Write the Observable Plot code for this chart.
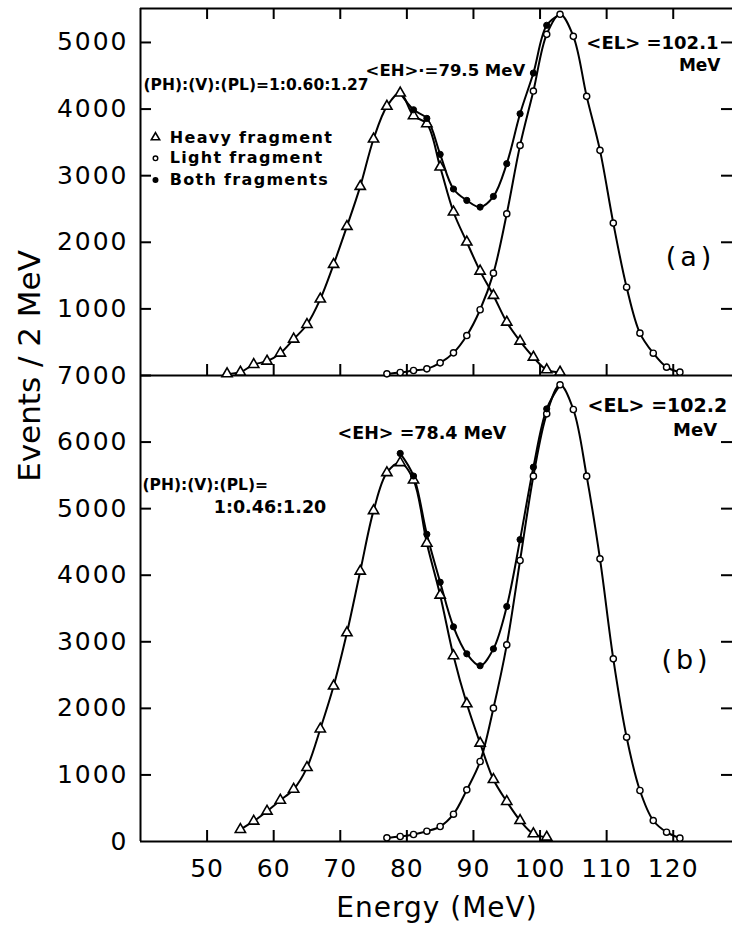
<!DOCTYPE html>
<html>
<head>
<meta charset="utf-8">
<script src="https://cdn.jsdelivr.net/npm/d3@7"></script>
<script src="https://cdn.jsdelivr.net/npm/@observablehq/plot@0.6"></script>
<style>
  html, body { margin: 0; padding: 0; background: #fff; overflow: hidden; }
  #chart { position: relative; width: 732px; height: 927px; }
  #chart svg { position: absolute; left: 0; }
  #chart g[aria-label="y-axis tick label"] text { letter-spacing: 2px; }
  #chart g[aria-label="x-axis tick label"] text { letter-spacing: 1px; }
</style>
</head>
<body>
<div id="chart"></div>
<script>
// ---------- data ----------
// Panel (a)
const heavyEnergyA = [53,55,57,59,61,63,65,67,69,71,73,75,77,79,81,83,85,87,89,91,93,95,97,99,101,103];
const heavyA       = [25,50,165,215,335,546,766,1147,1667,2238,2839,3550,4041,4240,3900,3780,3130,2455,2003,1567,1202,801,515,275,85,50];
const lightEnergyA = [77,79,81,83,85,87,89,91,93,95,97,99,101,103,105,107,109,111,113,115,117,119,121];
const lightA       = [25,45,75,100,190,340,600,987,1537,2428,3455,4271,5122,5423,5092,4191,3380,2288,1326,636,335,125,50];
const bothEnergyA  = [81,83,85,87,89,91,93,95,97,99,101];
const bothA        = [3990,3860,3320,2800,2629,2528,2689,3180,3930,4541,5258];

// Panel (b)
const heavyEnergyB = [55,57,59,61,63,65,67,69,71,73,75,77,79,81,83,85,87,89,91,93,95,97,99,101];
const heavyB       = [180,305,455,620,785,1110,1690,2335,3135,4060,4970,5540,5690,5430,4480,3700,2790,2068,1477,931,601,315,115,65];
const lightEnergyB = [77,79,81,83,85,87,89,91,93,95,97,99,101,103,105,107,109,111,113,115,117,119,121];
const lightB       = [55,75,105,155,225,410,776,1202,2003,2954,4221,5488,6424,6860,6489,5488,4246,2744,1567,766,315,140,50];
const bothEnergyB  = [79,81,83,85,87,89,91,93,95,97,99,101];
const bothB        = [5830,5490,4615,3895,3225,2819,2640,2894,3530,4535,5623,6499];

// axes
const xTicks  = [50,60,70,80,90,100,110,120];
const yTicksA = [1000,2000,3000,4000,5000];
const yTicksB = [0,1000,2000,3000,4000,5000,6000,7000];
const xDomain = [40, 128.9];
const yDomainA = [0, 5510];
const yDomainB = [0, 7000];

// texts
const legendLabels  = ["Heavy fragment", "Light fragment", "Both fragments"];
const legendSymbols = ["triangle", "circle", "circle"];
const legendFills   = ["white", "white", "black"];
const ratioA = "(PH):(V):(PL)=1:0.60:1.27";
const ehA = "<EH>·=79.5 MeV";
const elA = "<EL> =102.1";
const ratioB1 = "(PH):(V):(PL)=";
const ratioB2 = "1:0.46:1.20";
const ehB = "<EH> =78.4 MeV";
const elB = "<EL> =102.2";
const xLabel = "Energy (MeV)";
const yLabel = "Events / 2 MeV";

// ---------- helpers ----------
const FONT = "'DejaVu Sans', sans-serif";
const tickLen = 11;        // px
const axisStroke = 2;
const plotW = 732 - 140;   // px width of plotting area
const rows = (E, V) => E.map((e, i) => ({e, v: V[i]}));
const at = (E, V, e) => V[E.indexOf(e)];

function seriesMarks(heavy, light, both, bothLine) {
  return [
    Plot.line(heavy, {x: "e", y: "v", curve: "catmull-rom", strokeWidth: 2, stroke: "black"}),
    Plot.line(light, {x: "e", y: "v", curve: "catmull-rom", strokeWidth: 2, stroke: "black"}),
    Plot.line(bothLine, {x: "e", y: "v", curve: "catmull-rom", strokeWidth: 2, stroke: "black"}),
    Plot.dot(heavy, {x: "e", y: "v", symbol: "triangle", r: 3.8, stroke: "black", fill: "white", strokeWidth: 1.6}),
    Plot.dot(light, {x: "e", y: "v", symbol: "circle", r: 3.1, stroke: "black", fill: "white", strokeWidth: 1.4}),
    Plot.dot(both, {x: "e", y: "v", symbol: "circle", r: 3.1, fill: "black", stroke: "black", strokeWidth: 1})
  ];
}

// frame lines, inward ticks and tick labels
function axisMarks(yTicks, yDomain, plotH, withLabelsX, topLine) {
  const dE = tickLen * (xDomain[1] - xDomain[0]) / plotW;   // tick length in MeV
  const dV = tickLen * (yDomain[1] - yDomain[0]) / plotH;   // tick length in counts
  const m = [
    Plot.ruleX([xDomain[0]], {strokeWidth: axisStroke}),
    Plot.ruleY([0], {strokeWidth: axisStroke}),
    Plot.ruleY(yTicks.filter(t => t > 0), {y: d => d, x1: () => xDomain[0], x2: () => xDomain[0] + dE, strokeWidth: axisStroke, stroke: "black"}),
    Plot.ruleY(yTicks.filter(t => t > 0 && t < yDomain[1]), {y: d => d, x1: () => xDomain[1] - dE, x2: () => xDomain[1], strokeWidth: axisStroke, stroke: "black"}),
    Plot.ruleX(xTicks, {x: d => d, y1: () => 0, y2: () => dV, strokeWidth: axisStroke, stroke: "black"}),
    Plot.axisY({anchor: "left", ticks: yTicks, tickSize: 0, tickPadding: 12,
                fontSize: 25, label: null, tickFormat: d => String(d)})
  ];
  if (withLabelsX) {
    m.push(Plot.axisX({anchor: "bottom", ticks: xTicks, tickSize: 0, tickPadding: 18,
                       fontSize: 25, label: null, tickFormat: d => String(d)}));
  }
  if (topLine) {
    m.push(Plot.ruleY([yDomain[1]], {strokeWidth: axisStroke}));
    m.push(Plot.ruleX(xTicks, {x: d => d, y1: () => yDomain[1] - dV, y2: () => yDomain[1], strokeWidth: axisStroke, stroke: "black"}));
  }
  return m;
}

function annotation(text, e, v, opts = {}) {
  return Plot.text([text], {x: () => e, y: () => v, text: d => d, fontSize: 16, fontWeight: "bold",
                            textAnchor: "start", fill: "black", ...opts});
}

const chart = document.getElementById("chart");
const spacing = {};

// ---------- panel (a) ----------
{
  const heavy = rows(heavyEnergyA, heavyA);
  const light = rows(lightEnergyA, lightA);
  const both = rows(bothEnergyA, bothA);
  const bothLine = [{e: 79, v: at(heavyEnergyA, heavyA, 79)}, ...both, {e: 103, v: at(lightEnergyA, lightA, 103)}];
  const legend = legendLabels.map((label, i) => ({label, symbol: legendSymbols[i], fill: legendFills[i], i}));
  const legendV = [3575, 3260, 2935];
  const H = 380, mt = 8, mb = 5;

  const svg = Plot.plot({
    width: 732, height: H,
    marginLeft: 140, marginRight: 0, marginTop: mt, marginBottom: mb,
    x: {domain: xDomain, axis: null}, y: {domain: yDomainA},
    style: {background: "transparent", overflow: "visible", fontFamily: FONT, color: "black"},
    marks: [
      ...axisMarks(yTicksA, yDomainA, H - mt - mb, false, true),
      ...seriesMarks(heavy, light, both, bothLine),
      annotation(ratioA, 40.45, 4356, {fontSize: 15.5}),
      annotation(ehA, 73.8, 4582, {fontSize: 16.5}),
      annotation(elA, 126.8, 4987, {textAnchor: "end", fontSize: 18}),
      annotation("MeV", 127.1, 4660, {textAnchor: "end", fontSize: 17}),
      annotation("(a)", 122.6, 1773, {textAnchor: "middle", fontSize: 27, fontWeight: "normal"}),
      Plot.dot(legend.filter(d => d.symbol === "triangle"), {x: () => 42.25, y: d => legendV[d.i], symbol: "triangle", r: 3.1, stroke: "black", fill: "white", strokeWidth: 1.6}),
      Plot.dot(legend.filter(d => d.symbol === "circle"), {x: () => 42.25, y: d => legendV[d.i], symbol: "circle", r: 2.3, stroke: "black", fill: d => d.fill, strokeWidth: 1.4}),
      Plot.text(legend, {x: () => 44.4, y: d => legendV[d.i], text: "label", textAnchor: "start", fontSize: 16, fontWeight: "bold"})
    ]
  });
  svg.style.top = "0px";
  legendLabels.forEach(l => spacing[l] = "1.3px");
  spacing["(a)"] = "4px";
  chart.appendChild(svg);
}

// ---------- panel (b) ----------
{
  const heavy = rows(heavyEnergyB, heavyB);
  const light = rows(lightEnergyB, lightB);
  const both = rows(bothEnergyB, bothB);
  const bothLine = [...both, {e: 103, v: at(lightEnergyB, lightB, 103)}];
  const H = 552, mt = 0, mb = 86;

  const svg = Plot.plot({
    width: 732, height: H,
    marginLeft: 140, marginRight: 0, marginTop: mt, marginBottom: mb,
    x: {domain: xDomain}, y: {domain: yDomainB},
    style: {background: "transparent", overflow: "visible", fontFamily: FONT, color: "black"},
    marks: [
      ...axisMarks(yTicksB, yDomainB, H - mt - mb, true, false),
      ...seriesMarks(heavy, light, both, bothLine),
      annotation(ehB, 69.6, 6129, {fontSize: 17.5}),
      annotation(elB, 128.1, 6550, {textAnchor: "end", fontSize: 19}),
      annotation("MeV", 126.6, 6174, {textAnchor: "end", fontSize: 18}),
      annotation(ratioB1, 40.3, 5348, {fontSize: 15.5}),
      annotation(ratioB2, 51.0, 5017, {fontSize: 17.5}),
      annotation("(b)", 122.0, 2719, {textAnchor: "middle", fontSize: 27, fontWeight: "normal"})
    ]
  });
  svg.style.top = "375px";
  spacing["(b)"] = "4px";
  chart.appendChild(svg);
}

// letter spacing for lettered annotations
for (const t of chart.querySelectorAll("text")) {
  const s = spacing[t.textContent];
  if (s) t.style.letterSpacing = s;
}

// ---------- axis titles ----------
const titles = d3.create("svg")
  .attr("width", 732).attr("height", 927)
  .style("top", "0px").style("pointer-events", "none")
  .style("font-family", FONT);
titles.append("text")
  .attr("x", 437).attr("y", 917).attr("text-anchor", "middle")
  .attr("font-size", 28).style("letter-spacing", "1px")
  .text(xLabel);
titles.append("text")
  .attr("transform", "translate(40,366) rotate(-90)").attr("text-anchor", "middle")
  .attr("font-size", 31)
  .text(yLabel);
chart.appendChild(titles.node());
</script>
</body>
</html>
